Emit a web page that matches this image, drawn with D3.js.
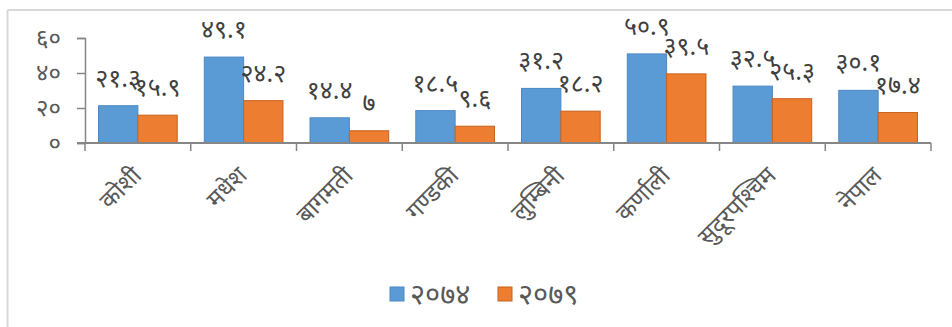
<!DOCTYPE html>
<html>
<head>
<meta charset="utf-8">
<script src="https://cdn.jsdelivr.net/npm/d3@7/dist/d3.min.js"></script>
<style>
  html, body { margin: 0; padding: 0; background: #fff; }
  svg { display: block; }
  text { font-family: "Noto Sans", "Noto Sans Devanagari", Lato, sans-serif; }
</style>
</head>
<body>
<svg id="chart" width="952" height="327"></svg>
<script>
// Provinces of Nepal and the national figure
const categories = ["कोशी", "मधेश", "बागमती", "गण्डकी", "लुम्बिनी", "कर्णाली", "सुदूरपश्चिम", "नेपाल"];
const seriesNames = ["२०७४", "२०७९"];
const values2074 = [21.3, 49.1, 14.4, 18.5, 31.2, 50.9, 32.5, 30.1];
const values2079 = [15.9, 24.2, 7, 9.6, 18.2, 39.5, 25.3, 17.4];
const yTicks = [0, 20, 40, 60];

const colors = ["#5B9BD5", "#ED7D31"];
const strokes = ["#4a88c2", "#c7621f"];

// Devanagari numerals for ticks and data labels
const devDigits = "०१२३४५६७८९";
const toDev = s => String(s).replace(/[0-9]/g, d => devDigits[+d]);

const svg = d3.select("#chart");

// chart frame
svg.append("line").attr("x1", 7.5).attr("x2", 952).attr("y1", 10).attr("y2", 10)
  .attr("stroke", "#d9d9d9").attr("stroke-width", 2);
svg.append("line").attr("x1", 7.5).attr("x2", 7.5).attr("y1", 10).attr("y2", 327)
  .attr("stroke", "#d9d9d9").attr("stroke-width", 2);

const plot = { left: 85, right: 931, top: 38, bottom: 143 };

const x = d3.scaleBand().domain(categories).range([plot.left, plot.right]);
const y = d3.scaleLinear().domain([0, 60]).range([plot.bottom, plot.top]);

const bw = x.bandwidth();
const barW = bw * 0.372;
const groupOffset = (bw - 2 * barW) / 2;

// y axis
const yAxis = svg.append("g").attr("transform", `translate(${plot.left},0)`)
  .call(d3.axisLeft(y).tickValues(yTicks).tickSize(8).tickPadding(16).tickFormat(d => toDev(d)));
yAxis.select(".domain").attr("stroke", "#868686").attr("stroke-width", 1.5);
yAxis.selectAll(".tick line").attr("stroke", "#868686").attr("stroke-width", 1.5);
yAxis.selectAll(".tick text").attr("fill", "#595959").style("font-size", "24px").attr("dy", "0.33em");

// bars
const series = [values2074, values2079];
series.forEach((vals, si) => {
  svg.append("g").selectAll("rect")
    .data(categories.map((c, i) => ({ c, v: vals[i] })))
    .join("rect")
    .attr("x", d => x(d.c) + groupOffset + si * barW)
    .attr("y", d => y(d.v))
    .attr("width", barW)
    .attr("height", d => y(0) - y(d.v))
    .attr("fill", colors[si])
    .attr("stroke", strokes[si])
    .attr("stroke-width", 1);
});

// x axis (drawn over the bar bottoms)
const xAxisG = svg.append("g").attr("transform", `translate(0,${plot.bottom})`);
xAxisG.append("line").attr("x1", plot.left - 8).attr("x2", plot.right)
  .attr("stroke", "#868686").attr("stroke-width", 2);
const boundaries = categories.map(c => x(c)).concat([x(categories[categories.length - 1]) + bw]);
xAxisG.selectAll(".tk").data(boundaries).join("line")
  .attr("x1", d => d).attr("x2", d => d).attr("y1", 0).attr("y2", 8)
  .attr("stroke", "#868686").attr("stroke-width", 1.5);

// rotated category labels
svg.append("g").selectAll("text").data(categories).join("text")
  .attr("transform", d => `translate(${x(d) + bw / 2 + 5},${plot.bottom + 34}) rotate(-45)`)
  .attr("text-anchor", "end")
  .attr("fill", "#595959")
  .style("font-size", "24px")
  .text(d => d);

// data labels
series.forEach((vals, si) => {
  svg.append("g").selectAll("text")
    .data(categories.map((c, i) => ({ c, v: vals[i] })))
    .join("text")
    .attr("x", d => x(d.c) + groupOffset + si * barW + barW / 2)
    .attr("y", d => y(d.v) - 19)
    .attr("text-anchor", "middle")
    .attr("fill", "#404040")
    .style("font-size", "25px")
    .text(d => toDev(d.v));
});

// legend
const legend = svg.append("g").attr("transform", "translate(390,287)");
seriesNames.forEach((name, i) => {
  const g = legend.append("g").attr("transform", `translate(${i * 108},0)`);
  g.append("rect").attr("width", 14).attr("height", 14)
    .attr("fill", colors[i]).attr("stroke", strokes[i]);
  g.append("text").attr("x", 20).attr("y", 17)
    .attr("fill", "#595959").style("font-size", "29px").text(name);
});
</script>
</body>
</html>
